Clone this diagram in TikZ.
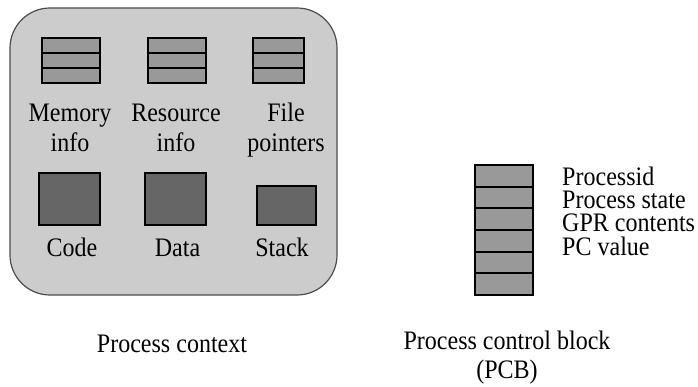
\documentclass[tikz,border=0pt]{standalone}
\usepackage{fontspec}
\setmainfont[FakeStretch=0.9]{Liberation Serif}

\begin{document}
\begin{tikzpicture}[x=1pt, y=-1pt,
  ctx/.style={draw=black!70, fill=black!20, line width=1.2pt, rectangle, rounded corners=40pt, inner sep=0pt},
  slot/.style={draw, fill=black!40, line width=1.8pt, rectangle, inner sep=0pt},
  seg/.style={draw, fill=black!60, line width=1.8pt, rectangle, inner sep=0pt},
  lbl/.style={font=\fontsize{26.7}{30}\selectfont, align=center, anchor=base, inner sep=0pt},
  field/.style={font=\fontsize{26.7}{23.3}\selectfont, align=left, anchor=base west, inner sep=0pt}]
\useasboundingbox (0,0) rectangle (698,387);

% process context
\node[ctx, minimum width=327pt, minimum height=287pt] (ctxbox) at (173.5,151.5) {};
\foreach \name/\cx/\w in {mem/71/58pt, res/177/58pt, file/278.5/51pt} {
  \foreach \i in {1,2,3} {
    \node[slot, minimum width=\w, minimum height=15pt] (\name\i) at (\cx, 30.5+15*\i) {};
  }
}
\node[lbl] (memlbl) at (70,152) {Memory\\info};
\node[lbl] (reslbl) at (176,152) {Resource\\info};
\node[lbl] (filelbl) at (286,152) {File\\pointers};

\node[seg, minimum width=61pt, minimum height=52pt] (code) at (69.5,199) {};
\node[seg, minimum width=61pt, minimum height=52pt] (data) at (175.5,199) {};
\node[seg, minimum width=59pt, minimum height=39pt] (stack) at (286.5,205.5) {};
\node[lbl] (codelbl) at (72,257) {Code};
\node[lbl] (datalbl) at (177.5,257) {Data};
\node[lbl] (stacklbl) at (282,257) {Stack};

\node[lbl] (ctxlbl) at (172,352) {Process context};

% process control block
\foreach \i in {1,...,6} {
  \node[slot, minimum width=58pt, minimum height=21.67pt] (pcb\i) at (504, 154.17+21.67*\i) {};
}
\node[field] (fields) at (562,255) {Processid\\Process state\\GPR contents\\PC value};
\node[lbl, font=\fontsize{26.7}{29}\selectfont] (pcblbl) at (507,378) {Process control block\\(PCB)};
\end{tikzpicture}
\end{document}
